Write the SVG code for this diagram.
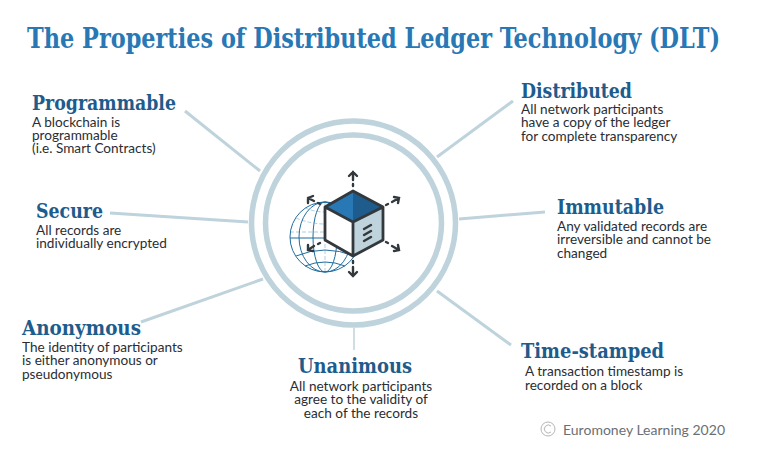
<svg xmlns="http://www.w3.org/2000/svg" width="760" height="460" viewBox="0 0 760 460">
<style>
.t{font-family:"DejaVu Serif Condensed","DejaVu Serif","Liberation Serif",serif;font-weight:700;fill:#1d5c8c;font-size:21px}
.b{font-family:"Lato","Noto Sans",sans-serif;fill:#2a2e33;font-size:13.6px}
.c{stroke:#bed3db;stroke-width:3;fill:none}
.r{stroke:#bed3db;stroke-width:5.5;fill:none}
.g{stroke:#1f6d9f;stroke-width:1;fill:none}
.g2{stroke:#9fc0d4;stroke-width:.8;fill:none;stroke-dasharray:4 2}
.a{stroke:#33383d;stroke-width:2.4;fill:none}
.d{stroke:#33383d;stroke-width:2.4;fill:none}
</style>
<rect width="760" height="460" fill="#fff"/>
<text id="title" transform="translate(27 48) scale(.88 1)" textLength="787.5" lengthAdjust="spacingAndGlyphs" style="font-family:'DejaVu Serif Condensed','DejaVu Serif','Liberation Serif',serif;font-weight:700;font-size:27px;fill:#2878b5">The Properties of Distributed Ledger Technology (DLT)</text>
<g id="connectors">
<line class="c" x1="185" y1="111" x2="260" y2="171"/>
<line class="c" x1="110" y1="213" x2="248" y2="222"/>
<line class="c" x1="141" y1="322" x2="263" y2="279"/>
<line class="c" x1="354" y1="328" x2="354" y2="350" style="stroke-width:1.5"/>
<line class="c" x1="437" y1="291" x2="511" y2="345"/>
<line class="c" x1="459" y1="219" x2="545" y2="212"/>
<line class="c" x1="437" y1="157" x2="513" y2="101"/>
</g>
<g id="hub">
<circle class="r" cx="353.5" cy="223" r="102"/>
<circle class="r" cx="353.5" cy="223" r="88"/>
<g id="globe">
<path class="g2" d="M296 218Q325 230 354 218M305 208Q325 216 345 208M325 202V272M290 232H360"/>
<circle class="g" cx="325" cy="237" r="35"/>
<ellipse class="g" cx="325" cy="237" rx="12" ry="35"/>
<ellipse class="g" cx="325" cy="237" rx="26" ry="35"/>
<path class="g" d="M290 238H360M296 256Q325 244 354 256M305 266Q325 258 345 266"/>
</g>
<g id="cube">
<path d="M353 191L325 207L353 222Z" fill="#2878b5"/>
<path d="M353 191L383 207L353 222Z" fill="#1d5c8c"/>
<path d="M325 207L353 222V256L325 240Z" fill="#fff"/>
<path d="M383 207L353 222V256L383 240Z" fill="#bed3db"/>
<path class="a" style="stroke-width:2.8" stroke-linejoin="round" d="M353 191L383 207V240L353 256L325 240V207ZM325 207L353 222L383 207M353 222V256"/>
<path class="a" stroke-linecap="round" d="M364 229L371 225M364 235L371 231M364 241L371 237"/>
</g>
<g id="arrows" stroke-linecap="round">
<path class="d" d="M353 186V184M353 180V172M349 176L353 172L357 176"/>
<path class="d" d="M353 261V263M353 267V276M349 272L353 276L357 272"/>
<path class="d" d="M320 204L318 203M314 201L308 198M308 203L308 198L313 196"/>
<path class="d" d="M386 205L388 204M392 202L399 198M394 197L399 198L398 203"/>
<path class="d" d="M320 243L318 244M314 246L308 250M308 245L308 250L313 251"/>
<path class="d" d="M386 242L388 243M392 246L399 250M398 245L399 250L394 251"/>
</g>
</g>
<g id="programmable"><text class="t" x="32" y="110" textLength="144" lengthAdjust="spacingAndGlyphs">Programmable</text><text class="b" x="32" y="127">A blockchain is</text><text class="b" x="32" y="140">programmable</text><text class="b" x="32" y="153">(i.e. Smart Contracts)</text></g>
<g id="secure"><text class="t" x="36" y="218" textLength="67" lengthAdjust="spacingAndGlyphs">Secure</text><text class="b" x="36" y="235">All records are</text><text class="b" x="36" y="248">individually encrypted</text></g>
<g id="anonymous"><text class="t" x="22" y="335" textLength="119" lengthAdjust="spacingAndGlyphs">Anonymous</text><text class="b" x="22" y="352">The identity of participants</text><text class="b" x="22" y="365">is either anonymous or</text><text class="b" x="22" y="379">pseudonymous</text></g>
<g id="unanimous"><text class="t" x="298" y="373" textLength="114" lengthAdjust="spacingAndGlyphs">Unanimous</text><text class="b" x="361" y="391" text-anchor="middle">All network participants</text><text class="b" x="361" y="404" text-anchor="middle">agree to the validity of</text><text class="b" x="361" y="418" text-anchor="middle">each of the records</text></g>
<g id="timestamped"><text class="t" x="521" y="358" textLength="143" lengthAdjust="spacingAndGlyphs">Time-stamped</text><text class="b" x="525" y="376">A transaction timestamp is</text><text class="b" x="525" y="390">recorded on a block</text></g>
<g id="immutable"><text class="t" x="557" y="214" textLength="107" lengthAdjust="spacingAndGlyphs">Immutable</text><text class="b" x="557" y="231">Any validated records are</text><text class="b" x="557" y="244">irreversible and cannot be</text><text class="b" x="557" y="258">changed</text></g>
<g id="distributed"><text class="t" x="521" y="98" textLength="111" lengthAdjust="spacingAndGlyphs">Distributed</text><text class="b" x="521" y="114">All network participants</text><text class="b" x="521" y="127">have a copy of the ledger</text><text class="b" x="521" y="141">for complete transparency</text></g>
<g id="credit"><circle cx="548" cy="429" r="7" fill="none" stroke="#b5b5b5"/><path d="M551 426A4 4 0 1 0 551 432" fill="none" stroke="#b5b5b5"/><text x="563" y="435" style="font-family:Lato,'Noto Sans',sans-serif;font-size:14px;fill:#6b6f73" textLength="162">Euromoney Learning 2020</text></g>
</svg>
